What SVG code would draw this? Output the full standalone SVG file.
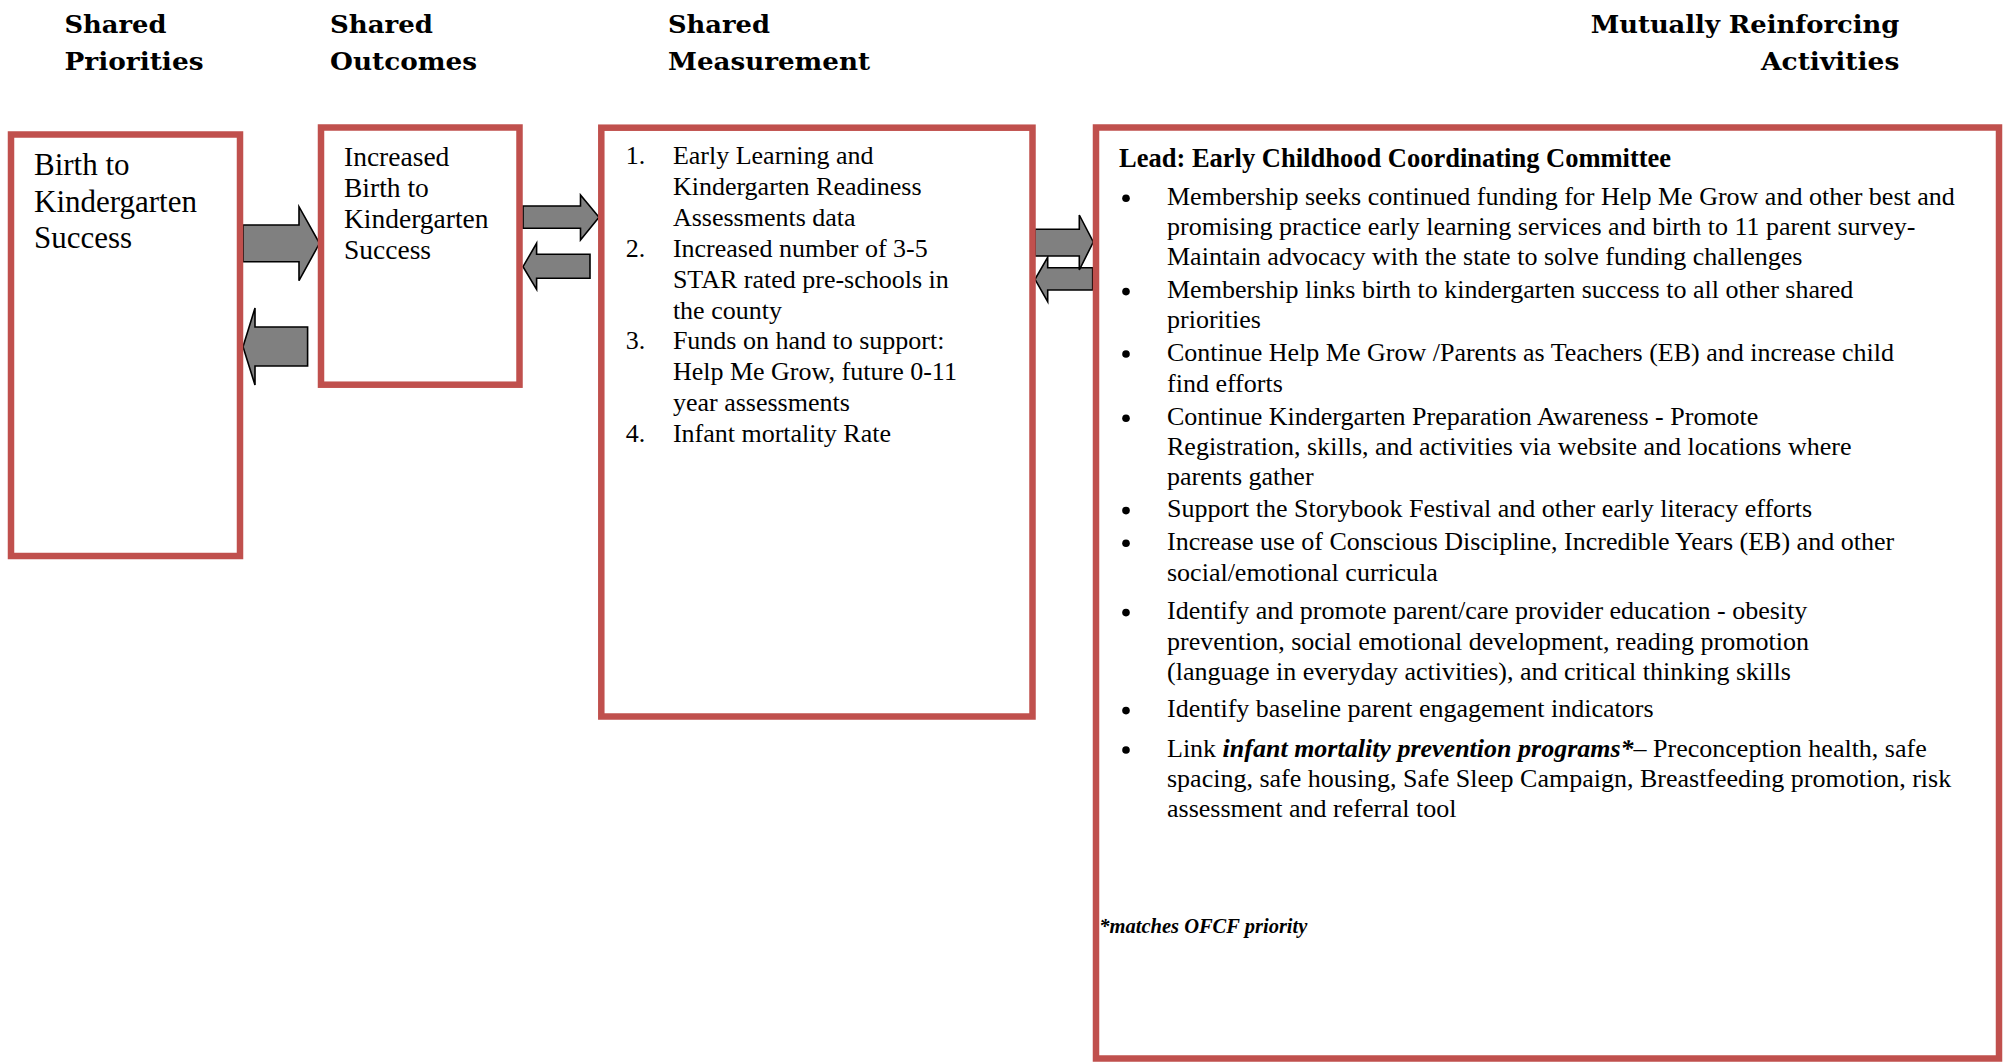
<svg xmlns="http://www.w3.org/2000/svg" width="2003" height="1062" viewBox="0 0 2003 1062">
<style>
.hdr{font-family:"DejaVu Serif","Liberation Serif",serif;font-weight:bold;font-size:25px;fill:#000}
.box{fill:none;stroke:#C0504D;stroke-width:6.5}
.arr{fill:#808080;stroke:#000;stroke-width:1.6;stroke-linejoin:miter}
.t{font-family:"Liberation Serif","Times New Roman",serif;fill:#000}
.b1{font-size:31px}
.b2{font-size:27.5px}
.b3{font-size:26px}
.b4{font-size:26px}
.lead{font-size:26.5px;font-weight:bold}
.bi{font-weight:bold;font-style:italic}
.note{font-size:20.5px;font-weight:bold;font-style:italic}
.dot{fill:#000}
</style>
<rect width="2003" height="1062" fill="#fff"/>
<g id="headers">
<text class="hdr" x="64.5" y="33" textLength="102" lengthAdjust="spacingAndGlyphs">Shared</text>
<text class="hdr" x="64.5" y="70" textLength="139" lengthAdjust="spacingAndGlyphs">Priorities</text>
<text class="hdr" x="330" y="33" textLength="103" lengthAdjust="spacingAndGlyphs">Shared</text>
<text class="hdr" x="330" y="70" textLength="147" lengthAdjust="spacingAndGlyphs">Outcomes</text>
<text class="hdr" x="668" y="33" textLength="102" lengthAdjust="spacingAndGlyphs">Shared</text>
<text class="hdr" x="668" y="70" textLength="202" lengthAdjust="spacingAndGlyphs">Measurement</text>
<text class="hdr" x="1590.7" y="33" textLength="308.7" lengthAdjust="spacingAndGlyphs">Mutually Reinforcing</text>
<text class="hdr" x="1761" y="70" textLength="138.3" lengthAdjust="spacingAndGlyphs">Activities</text>
</g>
<g id="connectors">
<polygon class="arr" points="243,225 299,225 299,206.7 319.5,243.3 299,280.7 299,261.7 243,261.7"/>
<polygon class="arr" points="307.6,327 255,327 255,308 243,346.7 255,385 255,366 307.6,366"/>
<polygon class="arr" points="523,206 580.5,206 580.5,195 599,217.3 580.5,240 580.5,228.3 523,228.3"/>
<polygon class="arr" points="590,254.3 536.6,254.3 536.6,243.3 523,266.7 536.6,289.3 536.6,278.3 590,278.3"/>
<polygon class="arr" points="1092.7,267.7 1047.7,267.7 1047.7,257.3 1035,279.3 1047.7,301.7 1047.7,290 1092.7,290"/>
<polygon class="arr" points="1035,229.3 1079.3,229.3 1079.3,215 1093.3,242 1079.3,270 1079.3,256 1035,256"/>
</g>
<g id="priorities">
<rect class="box" x="11" y="134.5" width="229" height="421.5"/>
<text class="t b1" x="34" y="175">Birth to</text>
<text class="t b1" x="34" y="211.7">Kindergarten</text>
<text class="t b1" x="34" y="248">Success</text>
</g>
<g id="outcomes">
<rect class="box" x="321" y="127.5" width="198.5" height="257.2"/>
<text class="t b2" x="344" y="166">Increased</text>
<text class="t b2" x="344" y="196.7">Birth to</text>
<text class="t b2" x="344" y="227.5">Kindergarten</text>
<text class="t b2" x="344" y="258.5">Success</text>
</g>
<g id="measurement">
<rect class="box" x="601.3" y="127.7" width="431.2" height="588.8"/>
<text class="t b3" x="625.7" y="164">1.</text>
<text class="t b3" x="672.9" y="164">Early Learning and</text>
<text class="t b3" x="672.9" y="194.9">Kindergarten Readiness</text>
<text class="t b3" x="672.9" y="225.8">Assessments data</text>
<text class="t b3" x="625.7" y="256.7">2.</text>
<text class="t b3" x="672.9" y="256.7">Increased number of 3-5</text>
<text class="t b3" x="672.9" y="287.6">STAR rated pre-schools in</text>
<text class="t b3" x="672.9" y="318.5">the county</text>
<text class="t b3" x="625.7" y="349.4">3.</text>
<text class="t b3" x="672.9" y="349.4">Funds on hand to support:</text>
<text class="t b3" x="672.9" y="380.3">Help Me Grow, future 0-11</text>
<text class="t b3" x="672.9" y="411.2">year assessments</text>
<text class="t b3" x="625.7" y="442.1">4.</text>
<text class="t b3" x="672.9" y="442.1">Infant mortality Rate</text>
</g>
<g id="activities">
<rect class="box" x="1096" y="127.5" width="903" height="931"/>
<text class="t lead" x="1119" y="166.7">Lead: Early Childhood Coordinating Committee</text>
<circle class="dot" cx="1126" cy="198.3" r="3.8"/>
<text class="t b4" x="1167" y="205">Membership seeks continued funding for Help Me Grow and other best and</text>
<text class="t b4" x="1167" y="235">promising practice early learning services and birth to 11 parent survey-</text>
<text class="t b4" x="1167" y="265">Maintain advocacy with the state to solve funding challenges</text>
<circle class="dot" cx="1126" cy="291.6" r="3.8"/>
<text class="t b4" x="1167" y="298.3">Membership links birth to kindergarten success to all other shared</text>
<text class="t b4" x="1167" y="328.3">priorities</text>
<circle class="dot" cx="1126" cy="354" r="3.8"/>
<text class="t b4" x="1167" y="360.7">Continue Help Me Grow /Parents as Teachers (EB) and increase child</text>
<text class="t b4" x="1167" y="391.7">find efforts</text>
<circle class="dot" cx="1126" cy="418.3" r="3.8"/>
<text class="t b4" x="1167" y="425">Continue Kindergarten Preparation Awareness - Promote</text>
<text class="t b4" x="1167" y="455">Registration, skills, and activities via website and locations where</text>
<text class="t b4" x="1167" y="485">parents gather</text>
<circle class="dot" cx="1126" cy="510.6" r="3.8"/>
<text class="t b4" x="1167" y="517.3">Support the Storybook Festival and other early literacy efforts</text>
<circle class="dot" cx="1126" cy="543.3" r="3.8"/>
<text class="t b4" x="1167" y="550">Increase use of Conscious Discipline, Incredible Years (EB) and other</text>
<text class="t b4" x="1167" y="580.7">social/emotional curricula</text>
<circle class="dot" cx="1126" cy="612.6" r="3.8"/>
<text class="t b4" x="1167" y="619.3">Identify and promote parent/care provider education - obesity</text>
<text class="t b4" x="1167" y="650">prevention, social emotional development, reading promotion</text>
<text class="t b4" x="1167" y="680">(language in everyday activities), and critical thinking skills</text>
<circle class="dot" cx="1126" cy="710.6" r="3.8"/>
<text class="t b4" x="1167" y="717.3">Identify baseline parent engagement indicators</text>
<circle class="dot" cx="1126" cy="750" r="3.8"/>
<text class="t b4" x="1167" y="756.7">Link <tspan class="bi">infant mortality prevention programs*</tspan>– Preconception health, safe</text>
<text class="t b4" x="1167" y="786.7">spacing, safe housing, Safe Sleep Campaign, Breastfeeding promotion, risk</text>
<text class="t b4" x="1167" y="816.7">assessment and referral tool</text>
<text class="t note" x="1099.3" y="933.3">*matches OFCF priority</text>
</g>
</svg>
